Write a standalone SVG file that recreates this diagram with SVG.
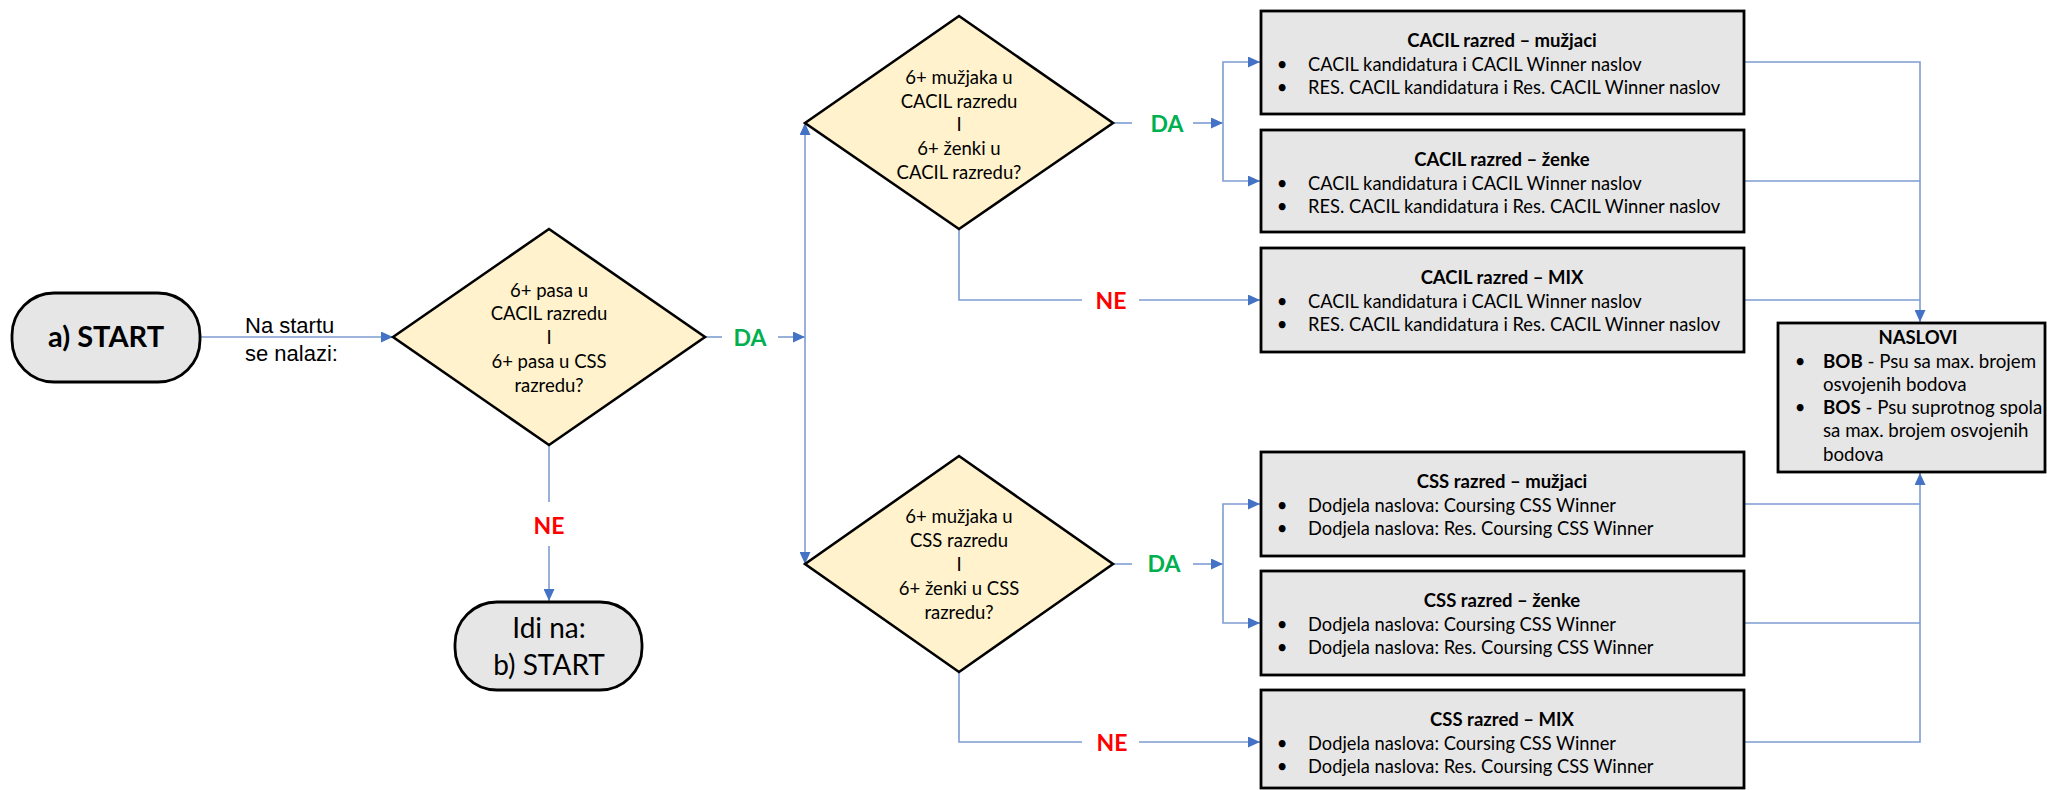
<svg xmlns="http://www.w3.org/2000/svg" width="2047" height="790" viewBox="0 0 2047 790">
<defs>
<marker id="ah" markerUnits="userSpaceOnUse" markerWidth="13" markerHeight="11" refX="12" refY="5.5" orient="auto">
<path d="M0,0 L12,5.5 L0,11 Z" fill="#4472c4"/>
</marker>
<style>
.term{fill:#e7e6e6;stroke:#000;stroke-width:2.8}
.dec{fill:#fff2cc;stroke:#000;stroke-width:2.6}
.box{fill:#e7e6e6;stroke:#000;stroke-width:2.8}
.c{fill:none;stroke:#7d9dd2;stroke-width:1.6}
.a{marker-end:url(#ah)}
text{font-family:Lato,"Liberation Sans",sans-serif;fill:#000}
.dt{font-size:18.5px;text-anchor:middle}
.bt{font-size:18.3px}
.bh{font-size:18.5px;font-weight:bold;text-anchor:middle}
.bu{font-size:18.5px;text-anchor:middle}
.da{font-size:23px;font-weight:bold;fill:#00b050;text-anchor:middle}
.ne{font-size:23px;font-weight:bold;fill:#ff0000;text-anchor:middle}
.ar{font-family:"Liberation Sans",Arial,sans-serif;font-size:22px}
</style>
</defs>

<g id="connectors">
<path class="c a" d="M200,337 H393"/>
<path class="c" d="M705,337 H722"/>
<path class="c a" d="M778,337 H805"/>
<path class="c a" d="M805,337 V123"/>
<path class="c a" d="M805,337 V564"/>
<path class="c" d="M549,445 V502"/>
<path class="c a" d="M549,546 V601"/>
<path class="c" d="M1113,123 H1132"/>
<path class="c a" d="M1193,123 H1223"/>
<path class="c a" d="M1223,123 V62 H1260"/>
<path class="c a" d="M1223,123 V181 H1260"/>
<path class="c" d="M959,229 V300 H1082"/>
<path class="c a" d="M1139,300 H1260"/>
<path class="c" d="M1113,564 H1132"/>
<path class="c a" d="M1193,564 H1223"/>
<path class="c a" d="M1223,564 V504 H1260"/>
<path class="c a" d="M1223,564 V623 H1260"/>
<path class="c" d="M959,672 V742 H1082"/>
<path class="c a" d="M1139,742 H1260"/>
<path class="c a" d="M1744,62 H1920 V322"/>
<path class="c" d="M1744,181 H1920"/>
<path class="c" d="M1744,300 H1920"/>
<path class="c" d="M1744,504 H1920"/>
<path class="c" d="M1744,623 H1920"/>
<path class="c a" d="M1744,742 H1920 V473"/>
<text class="ar" x="245" y="333">Na startu</text>
<text class="ar" x="245" y="361">se nalazi:</text>
<text class="da" x="750" y="346">DA</text>
<text class="ne" x="549" y="534">NE</text>
<text class="da" x="1167" y="132">DA</text>
<text class="ne" x="1111" y="309">NE</text>
<text class="da" x="1164" y="572">DA</text>
<text class="ne" x="1112" y="751">NE</text>
</g>

<g id="start-a">
<rect class="term" x="12" y="293" width="188" height="89" rx="42" ry="42"/>
<text x="106" y="347" style="font-size:29px;font-weight:bold;text-anchor:middle">a) START</text>
</g>

<g id="dec-main">
<polygon class="dec" points="393,337 549,229 705,337 549,445"/>
<text class="dt" x="549" y="297">6+ pasa u</text>
<text class="dt" x="549" y="320">CACIL razredu</text>
<text class="dt" x="549" y="344">I</text>
<text class="dt" x="549" y="368">6+ pasa u CSS</text>
<text class="dt" x="549" y="392">razredu?</text>
</g>

<g id="start-b">
<rect class="term" x="455" y="602" width="187" height="88" rx="42" ry="42"/>
<text x="549" y="638" style="font-size:28px;text-anchor:middle">Idi na:</text>
<text x="549" y="675" style="font-size:28px;text-anchor:middle">b) START</text>
</g>

<g id="dec-cacil">
<polygon class="dec" points="805,123 959,16 1113,123 959,229"/>
<text class="dt" x="959" y="84">6+ mužjaka u</text>
<text class="dt" x="959" y="108">CACIL razredu</text>
<text class="dt" x="959" y="131">I</text>
<text class="dt" x="959" y="155">6+ ženki u</text>
<text class="dt" x="959" y="179">CACIL razredu?</text>
</g>

<g id="dec-css">
<polygon class="dec" points="805,564 959,456 1113,564 959,672"/>
<text class="dt" x="959" y="523">6+ mužjaka u</text>
<text class="dt" x="959" y="547">CSS razredu</text>
<text class="dt" x="959" y="571">I</text>
<text class="dt" x="959" y="595">6+ ženki u CSS</text>
<text class="dt" x="959" y="619">razredu?</text>
</g>

<g id="cacil-m">
<rect class="box" x="1261" y="11" width="483" height="103"/>
<text class="bh" x="1502" y="47">CACIL razred – mužjaci</text>
<text class="bu" x="1282" y="71">•</text><text class="bt" x="1308" y="71">CACIL kandidatura i CACIL Winner naslov</text>
<text class="bu" x="1282" y="94">•</text><text class="bt" x="1308" y="94">RES. CACIL kandidatura i Res. CACIL Winner naslov</text>
</g>

<g id="cacil-z">
<rect class="box" x="1261" y="130" width="483" height="102"/>
<text class="bh" x="1502" y="166">CACIL razred – ženke</text>
<text class="bu" x="1282" y="190">•</text><text class="bt" x="1308" y="190">CACIL kandidatura i CACIL Winner naslov</text>
<text class="bu" x="1282" y="213">•</text><text class="bt" x="1308" y="213">RES. CACIL kandidatura i Res. CACIL Winner naslov</text>
</g>

<g id="cacil-mix">
<rect class="box" x="1261" y="248" width="483" height="104"/>
<text class="bh" x="1502" y="284">CACIL razred – MIX</text>
<text class="bu" x="1282" y="308">•</text><text class="bt" x="1308" y="308">CACIL kandidatura i CACIL Winner naslov</text>
<text class="bu" x="1282" y="331">•</text><text class="bt" x="1308" y="331">RES. CACIL kandidatura i Res. CACIL Winner naslov</text>
</g>

<g id="css-m">
<rect class="box" x="1261" y="452" width="483" height="104"/>
<text class="bh" x="1502" y="488">CSS razred – mužjaci</text>
<text class="bu" x="1282" y="512">•</text><text class="bt" x="1308" y="512">Dodjela naslova: Coursing CSS Winner</text>
<text class="bu" x="1282" y="535">•</text><text class="bt" x="1308" y="535">Dodjela naslova: Res. Coursing CSS Winner</text>
</g>

<g id="css-z">
<rect class="box" x="1261" y="571" width="483" height="104"/>
<text class="bh" x="1502" y="607">CSS razred – ženke</text>
<text class="bu" x="1282" y="631">•</text><text class="bt" x="1308" y="631">Dodjela naslova: Coursing CSS Winner</text>
<text class="bu" x="1282" y="654">•</text><text class="bt" x="1308" y="654">Dodjela naslova: Res. Coursing CSS Winner</text>
</g>

<g id="css-mix">
<rect class="box" x="1261" y="690" width="483" height="98"/>
<text class="bh" x="1502" y="726">CSS razred – MIX</text>
<text class="bu" x="1282" y="750">•</text><text class="bt" x="1308" y="750">Dodjela naslova: Coursing CSS Winner</text>
<text class="bu" x="1282" y="773">•</text><text class="bt" x="1308" y="773">Dodjela naslova: Res. Coursing CSS Winner</text>
</g>

<g id="naslovi">
<rect class="box" x="1778" y="323" width="267" height="149"/>
<text class="bh" x="1918" y="344">NASLOVI</text>
<text class="bu" x="1800" y="368">•</text><text class="bt" x="1823" y="368" style="font-size:18.7px"><tspan font-weight="bold">BOB</tspan> - Psu sa max. brojem</text>
<text class="bt" x="1823" y="391" style="font-size:18.7px">osvojenih bodova</text>
<text class="bu" x="1800" y="414">•</text><text class="bt" x="1823" y="414" style="font-size:18.7px"><tspan font-weight="bold">BOS</tspan> - Psu suprotnog spola</text>
<text class="bt" x="1823" y="437" style="font-size:18.7px">sa max. brojem osvojenih</text>
<text class="bt" x="1823" y="461" style="font-size:18.7px">bodova</text>
</g>
</svg>
